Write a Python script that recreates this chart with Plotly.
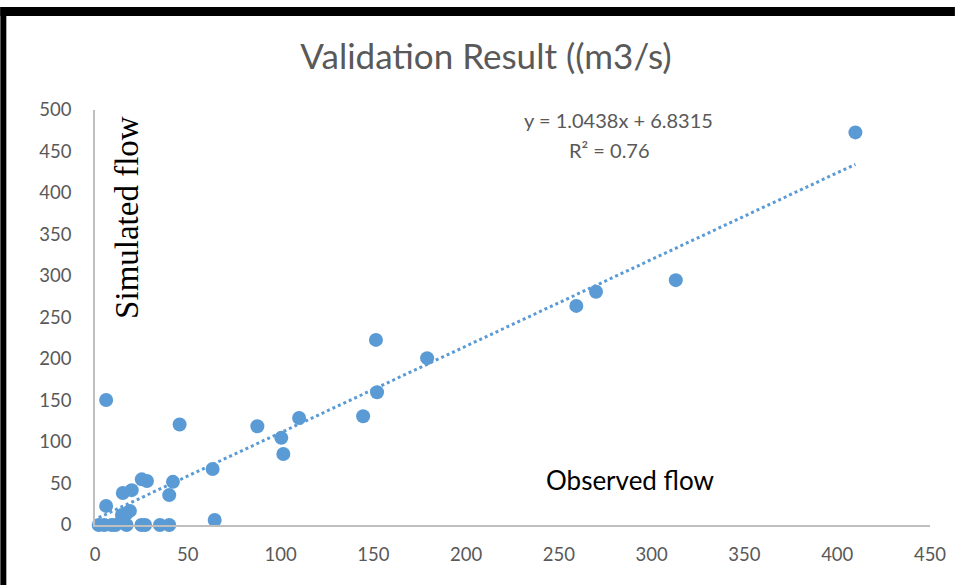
import plotly.graph_objects as go

# Observed flow (m3/s)
observed = [409.8, 270, 259.4, 313, 151.4, 152, 179, 144.5, 110, 87.5, 100.4, 101.5,
            63.4, 64.5, 45.6, 6, 6, 42, 40, 25.2, 28, 15, 19.8, 14.5, 17, 18.8,
            2, 5, 9, 11, 17, 25, 27, 35, 40]
# Simulated flow (m3/s)
simulated = [473, 281, 264, 295, 223, 160, 201, 131, 129, 119, 105, 85.5,
             67.5, 6, 121, 150.6, 23, 52, 36, 55, 53, 38.5, 42, 12, 14, 17,
             0, 0, 0, 0, 0, 0, 0, 0, 0]

slope = 1.0438
intercept = 6.8315
r2 = 0.76

x_ticks = [0, 50, 100, 150, 200, 250, 300, 350, 400, 450]
y_ticks = [0, 50, 100, 150, 200, 250, 300, 350, 400, 450, 500]

blue = "#5B9BD5"
gray = "#595959"

tx = [min(observed), max(observed)]
ty = [slope * v + intercept for v in tx]

W, H = 958, 585
L, R, T, B = 95, 25, 110, 60
PW, PH = W - L - R, H - T - B


def px(x):
    return (x - L) / PW


def py(y):
    return (H - B - y) / PH


fig = go.Figure()
fig.add_trace(go.Scatter(x=tx, y=ty, mode="lines",
                         line=dict(color=blue, width=3, dash="dot"),
                         hoverinfo="skip", showlegend=False))
fig.add_trace(go.Scatter(x=observed, y=simulated, mode="markers", cliponaxis=False,
                         marker=dict(color=blue, size=14, line=dict(width=0)),
                         showlegend=False))

fig.update_layout(
    width=W, height=H,
    margin=dict(l=L, r=R, t=T, b=B),
    paper_bgcolor="white", plot_bgcolor="white",
    title=dict(text="Validation Result ((m3/s)", x=486 / W, xanchor="center",
               y=1 - 57 / H, yanchor="middle",
               font=dict(family="Lato", size=35, color=gray)),
    xaxis=dict(range=[0, 450], tickvals=x_ticks, showgrid=False, zeroline=False,
               showline=True, linecolor="#BFBFBF", linewidth=1.5,
               ticks="", ticklabelstandoff=12,
               tickfont=dict(family="Lato", size=18.5, color=gray)),
    yaxis=dict(range=[0, 500], tickvals=y_ticks, showgrid=False, zeroline=False,
               showline=True, linecolor="#BFBFBF", linewidth=1.5,
               ticks="", ticklabelstandoff=18,
               tickfont=dict(family="Lato", size=18.5, color=gray)),
    annotations=[
        dict(text=f"y = {slope}x + {intercept}", xref="paper", yref="paper",
             x=px(620), y=py(120), xanchor="center", yanchor="middle",
             showarrow=False, font=dict(family="Lato", size=20, color=gray)),
        dict(text=f"R² = {r2}", xref="paper", yref="paper",
             x=px(611), y=py(150), xanchor="center", yanchor="middle",
             showarrow=False, font=dict(family="Lato", size=20, color=gray)),
        dict(text="Simulated flow", xref="paper", yref="paper",
             x=px(127), y=py(217), textangle=-90,
             xanchor="center", yanchor="middle", showarrow=False,
             font=dict(family="Liberation Serif", size=33, color="black")),
        dict(text="Observed flow", xref="paper", yref="paper",
             x=px(632), y=py(480), xanchor="center", yanchor="middle",
             showarrow=False, font=dict(family="Lato", size=26, color="black")),
    ],
    shapes=[
        dict(type="rect", xref="paper", yref="paper",
             x0=px(0), x1=px(W), y0=py(16), y1=py(7),
             fillcolor="black", line=dict(width=0), layer="above"),
        dict(type="rect", xref="paper", yref="paper",
             x0=px(0), x1=px(6), y0=py(H), y1=py(7),
             fillcolor="black", line=dict(width=0), layer="above"),
    ],
)

fig.write_html("out.html", config={"displayModeBar": False},
               post_script="document.body.style.margin='0';")
